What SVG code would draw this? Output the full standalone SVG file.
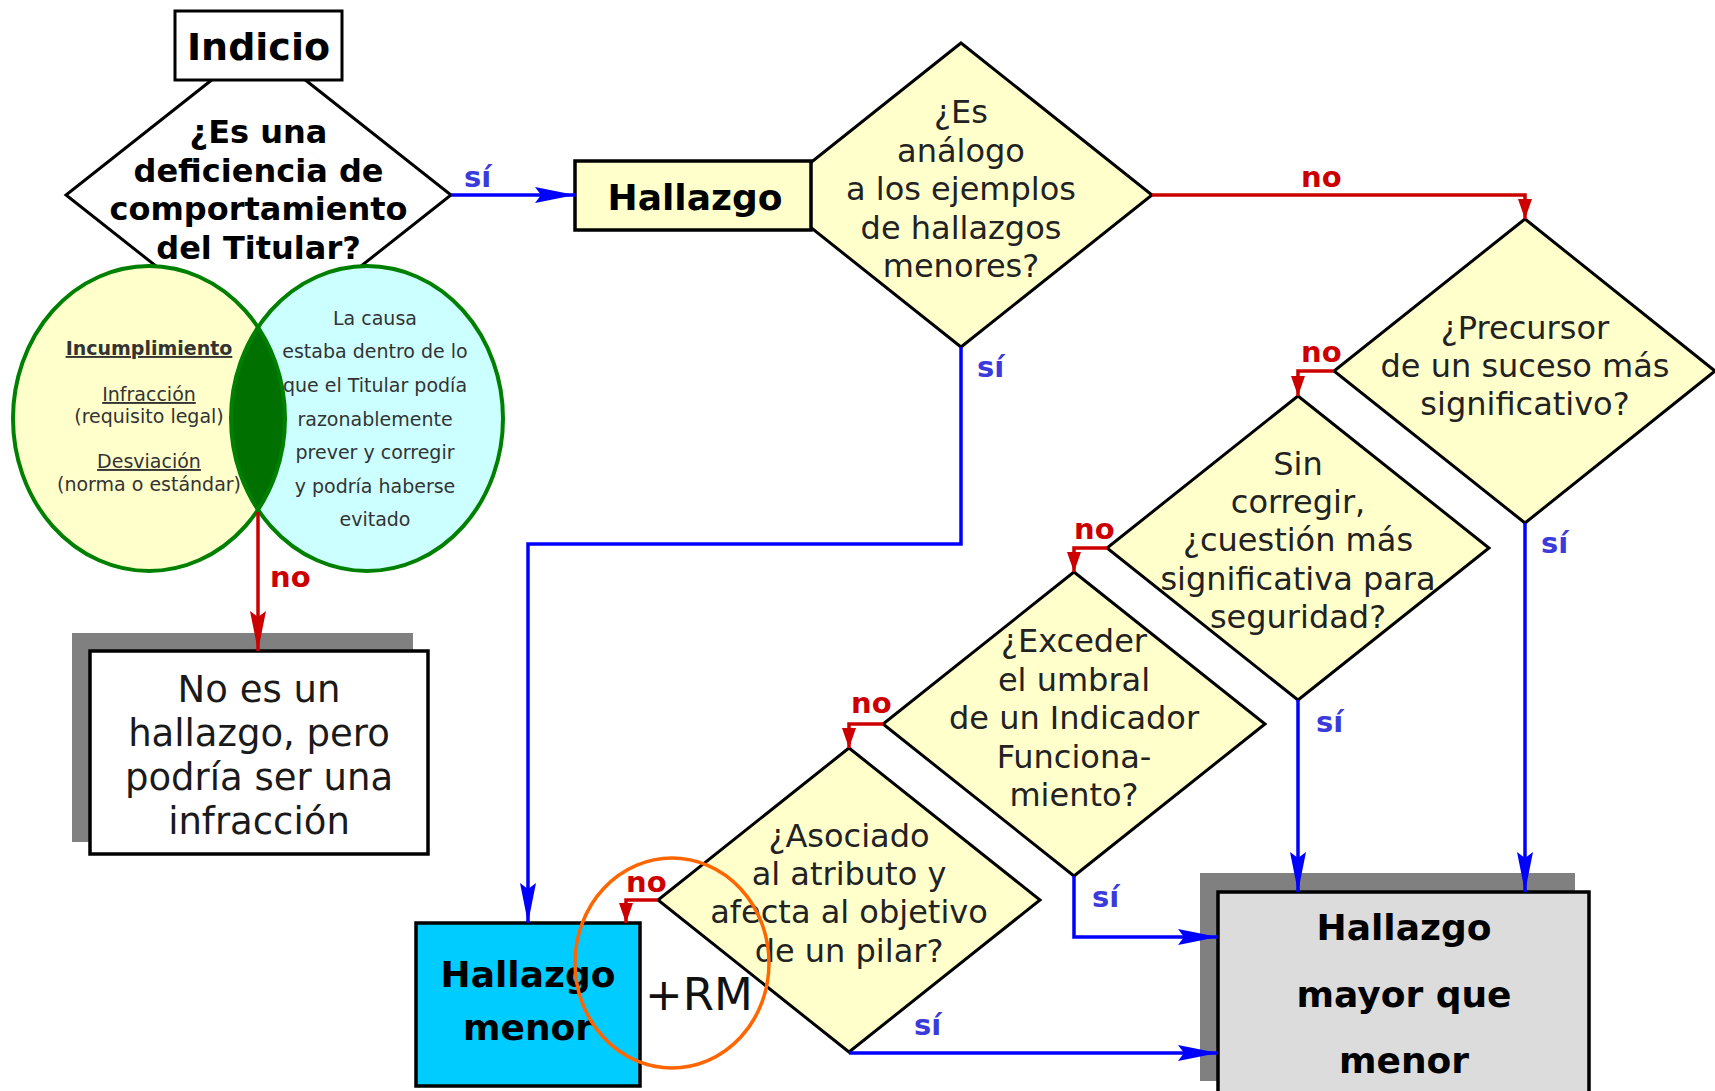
<svg xmlns="http://www.w3.org/2000/svg" width="1715" height="1091" viewBox="0 0 1715 1091">
<defs>
<style>
text { font-family: "DejaVu Sans", Verdana, sans-serif; }
.q { font-size:32px; fill:#222; text-anchor:middle; }
.qb { font-size:32px; font-weight:bold; fill:#000; text-anchor:middle; }
.big { font-size:36px; font-weight:bold; fill:#000; text-anchor:middle; }
.dia { fill:#ffffcc; stroke:#000; stroke-width:3; }
.box { stroke:#000; stroke-width:3.5; }
.blue { fill:none; stroke:#0000ff; stroke-width:3.5; }
.red { fill:none; stroke:#cc0000; stroke-width:3.5; }
.si { font-size:29px; font-weight:bold; fill:#3b3bdc; }
.no { font-size:29px; font-weight:bold; fill:#cc0000; }
.shadow { fill:#808080; }
.venn { font-size:19px; fill:#333; text-anchor:middle; }
.ring { fill:none; stroke:#008000; stroke-width:4; }
</style>
<marker id="ab" markerUnits="userSpaceOnUse" markerWidth="40" markerHeight="16" refX="40" refY="8" orient="auto"><path d="M0,0 L40,8 L0,16 L6,8 Z" fill="#0000ff"/></marker>
<marker id="ar" markerUnits="userSpaceOnUse" markerWidth="40" markerHeight="16" refX="40" refY="8" orient="auto"><path d="M0,0 L40,8 L0,16 L6,8 Z" fill="#cc0000"/></marker>
<marker id="ars" markerUnits="userSpaceOnUse" markerWidth="20" markerHeight="14" refX="20" refY="7" orient="auto"><path d="M0,0 L20,7 L0,14 Z" fill="#cc0000"/></marker>
<clipPath id="leftClip"><ellipse cx="149" cy="418.5" rx="136" ry="152.5"/></clipPath>
</defs>
<rect width="1715" height="1091" fill="#fff"/>

<g id="q-deficiencia">
<polygon points="258.5,43 451,195 258.5,347 66,195" fill="#fff" stroke="#000" stroke-width="3"/>
<text class="qb" x="258.5" y="143">¿Es una</text>
<text class="qb" x="258.5" y="181.5">deficiencia de</text>
<text class="qb" x="258.5" y="220">comportamiento</text>
<text class="qb" x="258.5" y="258.5">del Titular?</text>
</g>

<g id="indicio">
<rect x="175" y="11" width="167" height="69" fill="#fff" stroke="#000" stroke-width="3"/>
<text x="258.5" y="60" font-size="38" font-weight="bold" text-anchor="middle" fill="#000">Indicio</text>
</g>

<g id="venn">
<ellipse cx="149" cy="418.5" rx="136" ry="152.5" fill="#ffffcc"/>
<ellipse cx="367" cy="418.5" rx="136" ry="152.5" fill="#ccffff"/>
<ellipse cx="367" cy="418.5" rx="136" ry="152.5" fill="#007000" clip-path="url(#leftClip)"/>
<ellipse class="ring" cx="149" cy="418.5" rx="136" ry="152.5"/>
<ellipse class="ring" cx="367" cy="418.5" rx="136" ry="152.5"/>
<text class="venn" x="149" y="355" font-weight="bold" text-decoration="underline" fill="#222">Incumplimiento</text>
<text class="venn" x="149" y="401" text-decoration="underline">Infracción</text>
<text class="venn" x="149" y="423">(requisito legal)</text>
<text class="venn" x="149" y="468" text-decoration="underline">Desviación</text>
<text class="venn" x="149" y="491">(norma o estándar)</text>
<text class="venn" x="375" y="325">La causa</text>
<text class="venn" x="375" y="358">estaba dentro de lo</text>
<text class="venn" x="375" y="392">que el Titular podía</text>
<text class="venn" x="375" y="426">razonablemente</text>
<text class="venn" x="375" y="459">prever y corregir</text>
<text class="venn" x="375" y="493">y podría haberse</text>
<text class="venn" x="375" y="526">evitado</text>
</g>

<g id="no-hallazgo">
<rect class="shadow" x="72" y="633" width="341" height="209"/>
<rect class="box" x="90" y="651" width="338" height="203" fill="#fff"/>
<text x="259" y="702" font-size="37" text-anchor="middle" fill="#1a1a1a">No es un</text>
<text x="259" y="746" font-size="37" text-anchor="middle" fill="#1a1a1a">hallazgo, pero</text>
<text x="259" y="790" font-size="37" text-anchor="middle" fill="#1a1a1a">podría ser una</text>
<text x="259" y="834" font-size="37" text-anchor="middle" fill="#1a1a1a">infracción</text>
</g>

<g id="q-analogo">
<polygon class="dia" points="961,43 1152,195 961,347 770,195"/>
<text class="q" x="961" y="123">¿Es</text>
<text class="q" x="961" y="162">análogo</text>
<text class="q" x="961" y="200">a los ejemplos</text>
<text class="q" x="961" y="239">de hallazgos</text>
<text class="q" x="961" y="277">menores?</text>
</g>

<g id="hallazgo">
<rect class="box" x="575" y="161" width="236" height="69" fill="#ffffcc"/>
<text class="big" x="695" y="210">Hallazgo</text>
</g>

<g id="q-precursor">
<polygon class="dia" points="1525,219 1715,371 1525,523 1334,371"/>
<text class="q" x="1525" y="339">¿Precursor</text>
<text class="q" x="1525" y="377">de un suceso más</text>
<text class="q" x="1525" y="415">significativo?</text>
</g>

<g id="q-sin-corregir">
<polygon class="dia" points="1298,396 1489,548 1298,700 1107,548"/>
<text class="q" x="1298" y="475">Sin</text>
<text class="q" x="1298" y="513">corregir,</text>
<text class="q" x="1298" y="551">¿cuestión más</text>
<text class="q" x="1298" y="590">significativa para</text>
<text class="q" x="1298" y="628">seguridad?</text>
</g>

<g id="q-exceder">
<polygon class="dia" points="1074,572 1265,724 1074,876 883,724"/>
<text class="q" x="1074" y="652">¿Exceder</text>
<text class="q" x="1074" y="690.5">el umbral</text>
<text class="q" x="1074" y="729">de un Indicador</text>
<text class="q" x="1074" y="767.5">Funciona-</text>
<text class="q" x="1074" y="806">miento?</text>
</g>

<g id="q-asociado">
<polygon class="dia" points="849,748 1040,900 849,1052 658,900"/>
<text class="q" x="849" y="847">¿Asociado</text>
<text class="q" x="849" y="885">al atributo y</text>
<text class="q" x="849" y="923">afecta al objetivo</text>
<text class="q" x="849" y="962">de un pilar?</text>
</g>

<g id="hallazgo-menor">
<rect class="box" x="416" y="923" width="224" height="163" fill="#00ccff"/>
<text class="big" x="528" y="987">Hallazgo</text>
<text class="big" x="528" y="1040">menor</text>
<text x="645" y="1010" font-size="45" fill="#111">+RM</text>
</g>

<g id="hallazgo-mayor">
<rect class="shadow" x="1200" y="873" width="375" height="208"/>
<rect class="box" x="1218" y="892" width="371" height="210" fill="#dcdcdc"/>
<text class="big" x="1404" y="940">Hallazgo</text>
<text class="big" x="1404" y="1007">mayor que</text>
<text class="big" x="1404" y="1073">menor</text>
</g>

<g id="connectors">
<path class="blue" d="M451,195 H575" marker-end="url(#ab)"/>
<text class="si" x="464" y="187">sí</text>
<path class="red" d="M258,512 V651" marker-end="url(#ar)"/>
<text class="no" x="270" y="587">no</text>
<path class="red" d="M1152,195 H1525 V219" marker-end="url(#ars)"/>
<text class="no" x="1301" y="187">no</text>
<path class="blue" d="M961,347 V544 H528 V923" marker-end="url(#ab)"/>
<text class="si" x="977" y="377">sí</text>
<path class="red" d="M1334,371 H1298 V396" marker-end="url(#ars)"/>
<text class="no" x="1301" y="362">no</text>
<path class="blue" d="M1525,523 V892" marker-end="url(#ab)"/>
<text class="si" x="1541" y="553">sí</text>
<path class="red" d="M1107,548 H1074 V572" marker-end="url(#ars)"/>
<text class="no" x="1074" y="539">no</text>
<path class="blue" d="M1298,700 V892" marker-end="url(#ab)"/>
<text class="si" x="1316" y="732">sí</text>
<path class="red" d="M883,724 H849 V748" marker-end="url(#ars)"/>
<text class="no" x="851" y="713">no</text>
<path class="blue" d="M1074,876 V937 H1218" marker-end="url(#ab)"/>
<text class="si" x="1092" y="907">sí</text>
<path class="red" d="M658,900 H626 V923" marker-end="url(#ars)"/>
<text class="no" x="626" y="892">no</text>
<path class="blue" d="M849,1053 H1218" marker-end="url(#ab)"/>
<text class="si" x="914" y="1035">sí</text>
</g>

<g id="highlight">
<ellipse cx="672" cy="963" rx="97" ry="105" fill="none" stroke="#ff6600" stroke-width="3.5"/>
</g>
</svg>
